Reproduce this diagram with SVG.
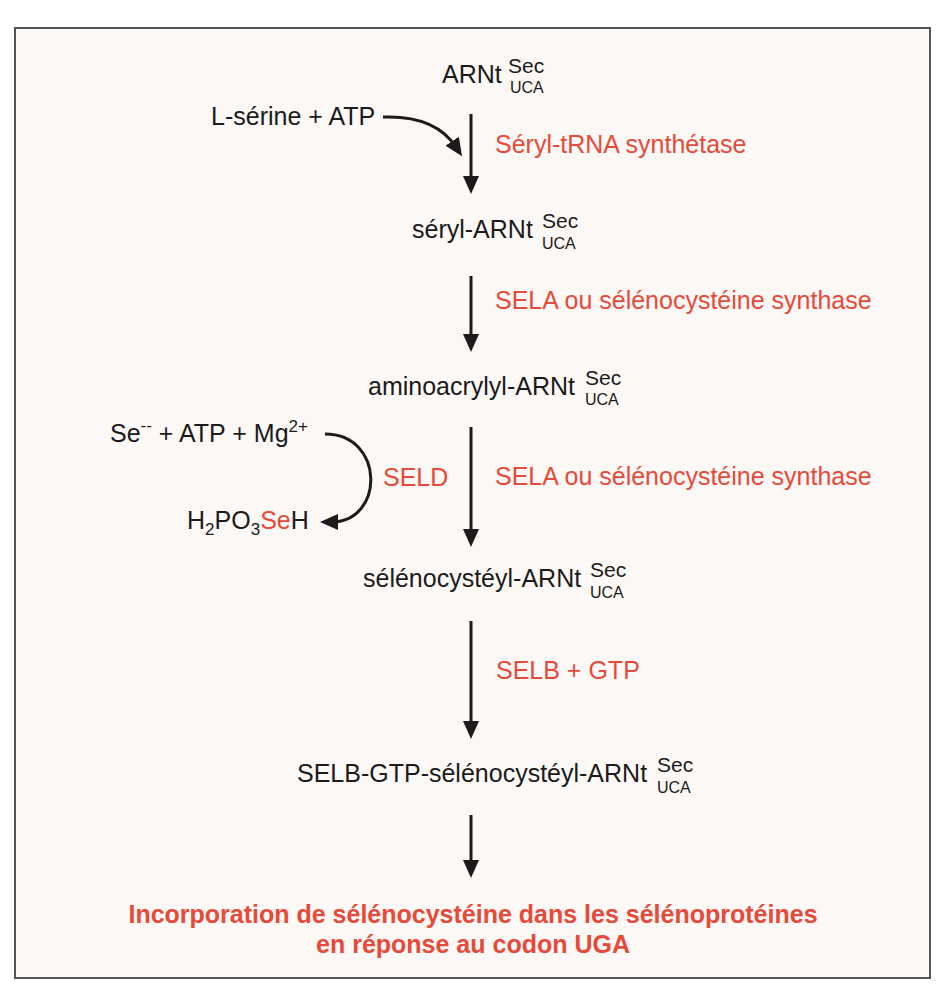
<svg xmlns="http://www.w3.org/2000/svg" width="945" height="1000" viewBox="0 0 945 1000">
<defs>
<style>
text{font-family:"Liberation Sans",Arial,Helvetica,sans-serif;fill:#1c1a1a;}
.n{font-size:25px;}
.sup{font-size:21px;}
.sub{font-size:16px;}
.r{fill:#e64a3a;font-size:25px;}
.b{fill:#e64a3a;font-size:25px;font-weight:bold;}
.arr{stroke:#1c1a1a;stroke-width:3;fill:none;}
</style>
<marker id="ah" viewBox="0 0 18 16" refX="7" refY="8" markerWidth="18" markerHeight="16" markerUnits="userSpaceOnUse" orient="auto">
<path d="M0,0 L18,8 L0,16 Z" fill="#1c1a1a"/>
</marker>
</defs>
<rect x="0" y="0" width="945" height="1000" fill="#ffffff"/>
<rect x="15" y="28" width="915" height="950" fill="#fbf8f5" stroke="#555555" stroke-width="2"/>

<g id="connectors">
<line class="arr" x1="471" y1="114" x2="471" y2="183" marker-end="url(#ah)"/>
<line class="arr" x1="471" y1="276" x2="471" y2="341" marker-end="url(#ah)"/>
<line class="arr" x1="471" y1="427" x2="471" y2="536" marker-end="url(#ah)"/>
<line class="arr" x1="471" y1="621" x2="471" y2="728" marker-end="url(#ah)"/>
<line class="arr" x1="471" y1="815" x2="471" y2="867" marker-end="url(#ah)"/>
<path class="arr" d="M383,117 Q435,115 456,147" marker-end="url(#ah)"/>
<path class="arr" d="M325,434 C385,434 385,522 331,522" marker-end="url(#ah)"/>
</g>

<g id="node-arnt">
<text class="n" x="442" y="83">ARNt</text>
<text class="sup" x="508" y="73">Sec</text>
<text class="sub" x="510" y="93">UCA</text>
</g>
<g id="node-serine">
<text class="n" x="211" y="125">L-sérine + ATP</text>
</g>
<g id="label-seryl-trna-synthetase">
<text class="r" x="495" y="153">Séryl-tRNA synthétase</text>
</g>
<g id="node-seryl-arnt">
<text class="n" x="412" y="238">séryl-ARNt</text>
<text class="sup" x="542" y="228">Sec</text>
<text class="sub" x="542" y="249">UCA</text>
</g>
<g id="label-sela-1">
<text class="r" x="495" y="309">SELA ou sélénocystéine synthase</text>
</g>
<g id="node-aminoacrylyl">
<text class="n" x="368" y="395">aminoacrylyl-ARNt</text>
<text class="sup" x="585" y="385">Sec</text>
<text class="sub" x="585" y="405">UCA</text>
</g>
<g id="node-se">
<text class="n" x="110" y="442">Se<tspan style="font-size:17px" dy="-11">--</tspan><tspan dy="11"> + ATP + Mg</tspan><tspan style="font-size:17px" dy="-10">2+</tspan></text>
</g>
<g id="label-seld">
<text class="r" x="383" y="486">SELD</text>
</g>
<g id="node-h2po3seh">
<text class="n" x="187" y="529">H<tspan style="font-size:17px" dy="6">2</tspan><tspan dy="-6">PO</tspan><tspan style="font-size:17px" dy="6">3</tspan><tspan dy="-6" style="fill:#e64a3a">Se</tspan><tspan>H</tspan></text>
</g>
<g id="label-sela-2">
<text class="r" x="495" y="485">SELA ou sélénocystéine synthase</text>
</g>
<g id="node-selenocysteyl">
<text class="n" x="363" y="587">sélénocystéyl-ARNt</text>
<text class="sup" x="590" y="577">Sec</text>
<text class="sub" x="590" y="598">UCA</text>
</g>
<g id="label-selb">
<text class="r" x="496" y="679">SELB + GTP</text>
</g>
<g id="node-selb-complex">
<text class="n" x="297" y="782">SELB-GTP-sélénocystéyl-ARNt</text>
<text class="sup" x="657" y="772">Sec</text>
<text class="sub" x="657" y="793">UCA</text>
</g>
<g id="node-incorporation">
<text class="b" x="473" y="923" text-anchor="middle">Incorporation de sélénocystéine dans les sélénoprotéines</text>
<text class="b" x="473" y="953" text-anchor="middle">en réponse au codon UGA</text>
</g>
</svg>
